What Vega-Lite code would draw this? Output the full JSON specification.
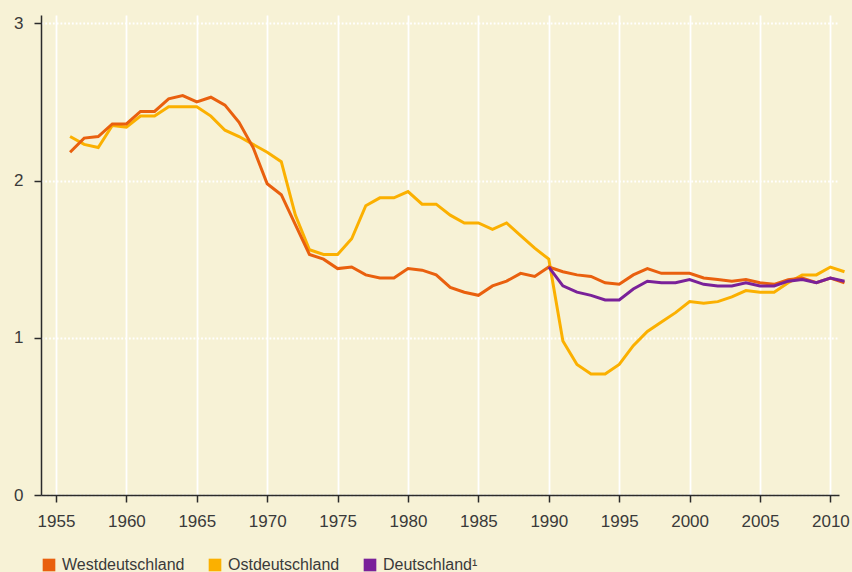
{
  "$schema": "https://vega.github.io/schema/vega-lite/v6.json",
  "autosize": {"type": "none"},
  "width": 798,
  "height": 480,
  "padding": {"left": 41, "top": 15, "right": 13, "bottom": 77},
  "background": "#F7F2D6",
  "config": {
    "view": {"stroke": null},
    "font": "Liberation Sans",
    "axis": {"labelFont": "Liberation Sans", "labelFontSize": 17, "labelColor": "#3a3a3a", "title": null}
  },
  "data": {"values": [
    {"year":1956,"series":"Westdeutschland","value":2.18},{"year":1957,"series":"Westdeutschland","value":2.27},{"year":1958,"series":"Westdeutschland","value":2.28},{"year":1959,"series":"Westdeutschland","value":2.36},{"year":1960,"series":"Westdeutschland","value":2.36},{"year":1961,"series":"Westdeutschland","value":2.44},{"year":1962,"series":"Westdeutschland","value":2.44},{"year":1963,"series":"Westdeutschland","value":2.52},{"year":1964,"series":"Westdeutschland","value":2.54},{"year":1965,"series":"Westdeutschland","value":2.50},{"year":1966,"series":"Westdeutschland","value":2.53},{"year":1967,"series":"Westdeutschland","value":2.48},{"year":1968,"series":"Westdeutschland","value":2.37},{"year":1969,"series":"Westdeutschland","value":2.21},{"year":1970,"series":"Westdeutschland","value":1.98},{"year":1971,"series":"Westdeutschland","value":1.91},{"year":1972,"series":"Westdeutschland","value":1.72},{"year":1973,"series":"Westdeutschland","value":1.53},{"year":1974,"series":"Westdeutschland","value":1.50},{"year":1975,"series":"Westdeutschland","value":1.44},{"year":1976,"series":"Westdeutschland","value":1.45},{"year":1977,"series":"Westdeutschland","value":1.40},{"year":1978,"series":"Westdeutschland","value":1.38},{"year":1979,"series":"Westdeutschland","value":1.38},{"year":1980,"series":"Westdeutschland","value":1.44},{"year":1981,"series":"Westdeutschland","value":1.43},{"year":1982,"series":"Westdeutschland","value":1.40},{"year":1983,"series":"Westdeutschland","value":1.32},{"year":1984,"series":"Westdeutschland","value":1.29},{"year":1985,"series":"Westdeutschland","value":1.27},{"year":1986,"series":"Westdeutschland","value":1.33},{"year":1987,"series":"Westdeutschland","value":1.36},{"year":1988,"series":"Westdeutschland","value":1.41},{"year":1989,"series":"Westdeutschland","value":1.39},{"year":1990,"series":"Westdeutschland","value":1.45},{"year":1991,"series":"Westdeutschland","value":1.42},{"year":1992,"series":"Westdeutschland","value":1.40},{"year":1993,"series":"Westdeutschland","value":1.39},{"year":1994,"series":"Westdeutschland","value":1.35},{"year":1995,"series":"Westdeutschland","value":1.34},{"year":1996,"series":"Westdeutschland","value":1.40},{"year":1997,"series":"Westdeutschland","value":1.44},{"year":1998,"series":"Westdeutschland","value":1.41},{"year":1999,"series":"Westdeutschland","value":1.41},{"year":2000,"series":"Westdeutschland","value":1.41},{"year":2001,"series":"Westdeutschland","value":1.38},{"year":2002,"series":"Westdeutschland","value":1.37},{"year":2003,"series":"Westdeutschland","value":1.36},{"year":2004,"series":"Westdeutschland","value":1.37},{"year":2005,"series":"Westdeutschland","value":1.35},{"year":2006,"series":"Westdeutschland","value":1.34},{"year":2007,"series":"Westdeutschland","value":1.37},{"year":2008,"series":"Westdeutschland","value":1.38},{"year":2009,"series":"Westdeutschland","value":1.35},{"year":2010,"series":"Westdeutschland","value":1.38},{"year":2011,"series":"Westdeutschland","value":1.35},
    {"year":1956,"series":"Ostdeutschland","value":2.28},{"year":1957,"series":"Ostdeutschland","value":2.23},{"year":1958,"series":"Ostdeutschland","value":2.21},{"year":1959,"series":"Ostdeutschland","value":2.35},{"year":1960,"series":"Ostdeutschland","value":2.34},{"year":1961,"series":"Ostdeutschland","value":2.41},{"year":1962,"series":"Ostdeutschland","value":2.41},{"year":1963,"series":"Ostdeutschland","value":2.47},{"year":1964,"series":"Ostdeutschland","value":2.47},{"year":1965,"series":"Ostdeutschland","value":2.47},{"year":1966,"series":"Ostdeutschland","value":2.41},{"year":1967,"series":"Ostdeutschland","value":2.32},{"year":1968,"series":"Ostdeutschland","value":2.28},{"year":1969,"series":"Ostdeutschland","value":2.23},{"year":1970,"series":"Ostdeutschland","value":2.18},{"year":1971,"series":"Ostdeutschland","value":2.12},{"year":1972,"series":"Ostdeutschland","value":1.78},{"year":1973,"series":"Ostdeutschland","value":1.56},{"year":1974,"series":"Ostdeutschland","value":1.53},{"year":1975,"series":"Ostdeutschland","value":1.53},{"year":1976,"series":"Ostdeutschland","value":1.63},{"year":1977,"series":"Ostdeutschland","value":1.84},{"year":1978,"series":"Ostdeutschland","value":1.89},{"year":1979,"series":"Ostdeutschland","value":1.89},{"year":1980,"series":"Ostdeutschland","value":1.93},{"year":1981,"series":"Ostdeutschland","value":1.85},{"year":1982,"series":"Ostdeutschland","value":1.85},{"year":1983,"series":"Ostdeutschland","value":1.78},{"year":1984,"series":"Ostdeutschland","value":1.73},{"year":1985,"series":"Ostdeutschland","value":1.73},{"year":1986,"series":"Ostdeutschland","value":1.69},{"year":1987,"series":"Ostdeutschland","value":1.73},{"year":1988,"series":"Ostdeutschland","value":1.65},{"year":1989,"series":"Ostdeutschland","value":1.57},{"year":1990,"series":"Ostdeutschland","value":1.50},{"year":1991,"series":"Ostdeutschland","value":0.98},{"year":1992,"series":"Ostdeutschland","value":0.83},{"year":1993,"series":"Ostdeutschland","value":0.77},{"year":1994,"series":"Ostdeutschland","value":0.77},{"year":1995,"series":"Ostdeutschland","value":0.83},{"year":1996,"series":"Ostdeutschland","value":0.95},{"year":1997,"series":"Ostdeutschland","value":1.04},{"year":1998,"series":"Ostdeutschland","value":1.10},{"year":1999,"series":"Ostdeutschland","value":1.16},{"year":2000,"series":"Ostdeutschland","value":1.23},{"year":2001,"series":"Ostdeutschland","value":1.22},{"year":2002,"series":"Ostdeutschland","value":1.23},{"year":2003,"series":"Ostdeutschland","value":1.26},{"year":2004,"series":"Ostdeutschland","value":1.30},{"year":2005,"series":"Ostdeutschland","value":1.29},{"year":2006,"series":"Ostdeutschland","value":1.29},{"year":2007,"series":"Ostdeutschland","value":1.35},{"year":2008,"series":"Ostdeutschland","value":1.40},{"year":2009,"series":"Ostdeutschland","value":1.40},{"year":2010,"series":"Ostdeutschland","value":1.45},{"year":2011,"series":"Ostdeutschland","value":1.42},
    {"year":1990,"series":"Deutschland¹","value":1.45},{"year":1991,"series":"Deutschland¹","value":1.33},{"year":1992,"series":"Deutschland¹","value":1.29},{"year":1993,"series":"Deutschland¹","value":1.27},{"year":1994,"series":"Deutschland¹","value":1.24},{"year":1995,"series":"Deutschland¹","value":1.24},{"year":1996,"series":"Deutschland¹","value":1.31},{"year":1997,"series":"Deutschland¹","value":1.36},{"year":1998,"series":"Deutschland¹","value":1.35},{"year":1999,"series":"Deutschland¹","value":1.35},{"year":2000,"series":"Deutschland¹","value":1.37},{"year":2001,"series":"Deutschland¹","value":1.34},{"year":2002,"series":"Deutschland¹","value":1.33},{"year":2003,"series":"Deutschland¹","value":1.33},{"year":2004,"series":"Deutschland¹","value":1.35},{"year":2005,"series":"Deutschland¹","value":1.33},{"year":2006,"series":"Deutschland¹","value":1.33},{"year":2007,"series":"Deutschland¹","value":1.36},{"year":2008,"series":"Deutschland¹","value":1.37},{"year":2009,"series":"Deutschland¹","value":1.35},{"year":2010,"series":"Deutschland¹","value":1.38},{"year":2011,"series":"Deutschland¹","value":1.36}
  ]},
  "encoding": {
    "x": {
      "field": "year", "type": "quantitative",
      "scale": {"domain": [1953.935, 2010.61], "nice": false, "zero": false},
      "axis": {
        "values": [1955,1960,1965,1970,1975,1980,1985,1990,1995,2000,2005,2010],
        "format": "d",
        "grid": true, "gridColor": "#ffffff", "gridWidth": 1.8, "gridOpacity": 1,
        "domainColor": "#2b2b2b", "domainWidth": 1.5,
        "tickColor": "#2b2b2b", "tickWidth": 1.5, "tickSize": 7,
        "labelPadding": 11, "labelFlush": false, "labelOverlap": false
      }
    },
    "y": {
      "field": "value", "type": "quantitative",
      "scale": {"domain": [0, 3.053], "nice": false, "zero": true},
      "axis": {
        "values": [0,1,2,3],
        "grid": true, "gridColor": "#ffffff", "gridWidth": 1.8, "gridDash": [1.8, 2], "gridOpacity": 1,
        "domainColor": "#2b2b2b", "domainWidth": 1.5,
        "tickColor": "#2b2b2b", "tickWidth": 1.5, "tickSize": 7,
        "labelPadding": 11
      }
    },
    "color": {
      "field": "series", "type": "nominal",
      "scale": {"domain": ["Westdeutschland","Ostdeutschland","Deutschland¹"], "range": ["#E9600E","#FBB000","#7A2199"]},
      "legend": {
        "title": null, "orient": "none", "direction": "horizontal",
        "legendX": 0, "legendY": 542,
        "symbolType": "square", "symbolSize": 160, "symbolStrokeWidth": 0, "symbolOpacity": 1,
        "labelFont": "Liberation Sans", "labelFontSize": 16, "labelColor": "#3a3a3a",
        "labelOffset": 5, "columnPadding": 22, "padding": 0,
        "encode": {"symbols": {"update": {"fill": {"scale": "color", "field": "value"}, "fillOpacity": {"value": 1}, "strokeWidth": {"value": 0}}}}
      }
    }
  },
  "layer": [
    {"transform": [{"filter": "datum.series === 'Ostdeutschland'"}], "mark": {"type": "line", "strokeWidth": 3}},
    {"transform": [{"filter": "datum.series === 'Westdeutschland'"}], "mark": {"type": "line", "strokeWidth": 3}},
    {"transform": [{"filter": "datum.series === 'Deutschland¹'"}], "mark": {"type": "line", "strokeWidth": 3}}
  ]
}
